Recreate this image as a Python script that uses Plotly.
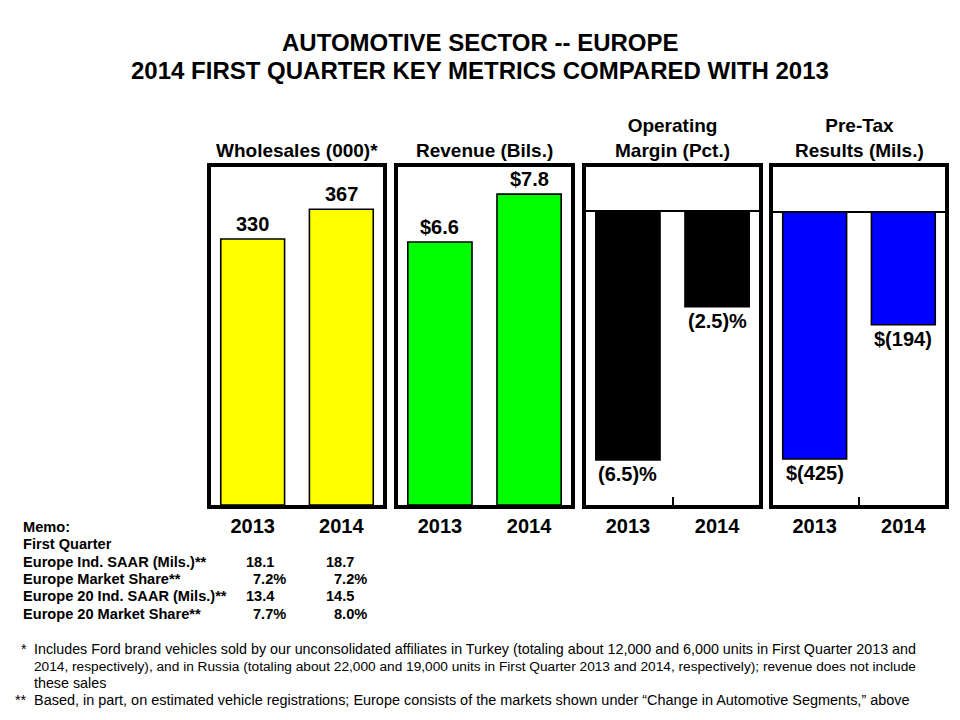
import plotly.graph_objects as go

# ---------------- data ----------------
years = ["2013", "2014"]
wholesales = [330, 367]
revenue = [6.6, 7.8]
op_margin = [-6.5, -2.5]
pretax = [-425, -194]

wholesales_labels = ["330", "367"]
revenue_labels = ["$6.6", "$7.8"]
op_margin_labels = ["(6.5)%", "(2.5)%"]
pretax_labels = ["$(425)", "$(194)"]

panel_titles = ["Wholesales (000)*", "Revenue (Bils.)",
                "Operating<br>Margin (Pct.)", "Pre-Tax<br>Results (Mils.)"]

memo_labels = ["Memo:", "First Quarter", "Europe Ind. SAAR (Mils.)**",
               "Europe Market Share**", "Europe 20 Ind. SAAR (Mils.)**",
               "Europe 20 Market Share**"]
memo_2013 = ["", "", "18.1", "7.2%", "13.4", "7.7%"]
memo_2014 = ["", "", "18.7", "7.2%", "14.5", "8.0%"]

footnote_marks = ["*", "", "", "**"]
footnote_lines = [
    "Includes Ford brand vehicles sold by our unconsolidated affiliates in Turkey (totaling about 12,000 and 6,000 units in First Quarter 2013 and",
    "2014, respectively), and in Russia (totaling about 22,000 and 19,000 units in First Quarter 2013 and 2014, respectively); revenue does not include",
    "these sales",
    "Based, in part, on estimated vehicle registrations; Europe consists of the markets shown under \u201cChange in Automotive Segments,\u201d above",
]

title_lines = ["AUTOMOTIVE SECTOR -- EUROPE",
               "2014 FIRST QUARTER KEY METRICS COMPARED WITH 2013"]

# ---------------- style / layout ----------------
OFF = 8                      # page body margin of the html page
W, H = 960 - 2 * OFF, 720 - 2 * OFF
FONT = "Liberation Sans, Arial, sans-serif"

series = [wholesales, revenue, op_margin, pretax]
labels = [wholesales_labels, revenue_labels, op_margin_labels, pretax_labels]
colors = ["#FFFF00", "#00FF00", "#000000", "#0000FF"]
x_dom_px = [(211, 383), (398, 571), (586, 759), (773, 945)]
y_dom_px = (167, 505)
y_ranges = [[0, 419.4], [0, 8.48], [-7.68, 1.15], [-504, 77.4]]
foot_sizes = [14.3, 13.7, 14.3, 14.45]


def px_x(v):
    return (v - OFF) / W


def px_y(v):
    return 1 - (v - OFF) / H


fig = go.Figure()
annotations = []
layout_axes = {}

for i in range(4):
    n = "" if i == 0 else str(i + 1)
    fig.add_trace(go.Bar(
        x=years, y=series[i], xaxis="x" + n, yaxis="y" + n,
        width=0.72,
        marker=dict(color=colors[i], line=dict(color="#000000", width=1.6)),
        showlegend=False, hoverinfo="skip",
    ))
    neg = series[i][0] < 0
    layout_axes["xaxis" + n] = dict(
        domain=[px_x(x_dom_px[i][0]), px_x(x_dom_px[i][1])],
        anchor="y" + n, type="category", range=[-0.47, 1.47],
        showline=True, linewidth=4, linecolor="#000000", mirror=True,
        showgrid=False, zeroline=False,
        ticks="inside" if neg else "", tickson="boundaries",
        ticklen=8, tickwidth=2, tickcolor="#000000",
        tickfont=dict(family=FONT, size=20, color="#000000", weight="bold"),
        ticklabelstandoff=0,
        fixedrange=True,
    )
    layout_axes["yaxis" + n] = dict(
        domain=[px_y(y_dom_px[1]), px_y(y_dom_px[0])],
        anchor="x" + n, range=y_ranges[i],
        showline=True, linewidth=4, linecolor="#000000", mirror=True,
        showgrid=False, showticklabels=False, ticks="",
        zeroline=neg, zerolinewidth=2, zerolinecolor="#000000",
        fixedrange=True,
    )
    # value labels (category index positions)
    for k, (v, t) in enumerate(zip(series[i], labels[i])):
        annotations.append(dict(
            x=k, y=v, xref="x" + n, yref="y" + n, text=t, showarrow=False,
            xanchor="center", yanchor="bottom" if v >= 0 else "top",
            yshift=2 if v >= 0 else -1,
            font=dict(family=FONT, size=20, color="#000000", weight="bold"),
        ))
    # panel header
    cx = (x_dom_px[i][0] + x_dom_px[i][1]) / 2
    annotations.append(dict(
        x=px_x(cx), y=px_y(162.5), xref="paper", yref="paper",
        text=panel_titles[i], showarrow=False, xanchor="center", yanchor="bottom",
        font=dict(family=FONT, size=19, color="#000000", weight="bold"),
    ))

# title
for k, (line, yc) in enumerate(zip(title_lines, (42, 70))):
    annotations.append(dict(
        x=px_x(480), y=px_y(yc), xref="paper", yref="paper", showarrow=False,
        text=line, xanchor="center", yanchor="middle",
        font=dict(family=FONT, size=24, color="#000000", weight="bold"),
    ))

# memo block
memo_font = dict(family=FONT, size=14.6, color="#000000", weight="bold")
for k, lab in enumerate(memo_labels):
    yc = 527 + k * 17.3
    annotations.append(dict(x=px_x(21), y=px_y(yc), xref="paper", yref="paper",
                            text=lab, showarrow=False, xanchor="left",
                            yanchor="middle", font=memo_font))
    for val, (xn, xp) in ((memo_2013[k], (244, 251)), (memo_2014[k], (324, 332))):
        if val:
            annotations.append(dict(
                x=px_x(xp if val.endswith("%") else xn), y=px_y(yc),
                xref="paper", yref="paper", text=val, showarrow=False,
                xanchor="left", yanchor="middle", font=memo_font))

# footnotes
for k, (mk, line) in enumerate(zip(footnote_marks, footnote_lines)):
    yc = 649 + k * 17.1
    foot_font = dict(family=FONT, size=foot_sizes[k], color="#000000")
    annotations.append(dict(x=px_x(32), y=px_y(yc), xref="paper", yref="paper",
                            text=line, showarrow=False, xanchor="left",
                            yanchor="middle", font=foot_font))
    if mk:
        annotations.append(dict(x=px_x(29), y=px_y(yc), xref="paper", yref="paper",
                                text=mk, showarrow=False, xanchor="right",
                                yanchor="middle", font=foot_font))

fig.update_layout(
    width=W, height=H, margin=dict(l=0, r=0, t=0, b=0),
    paper_bgcolor="#FFFFFF", plot_bgcolor="#FFFFFF",
    annotations=annotations, showlegend=False,
    **layout_axes,
)

fig.write_html("out.html", config={"displayModeBar": False})
